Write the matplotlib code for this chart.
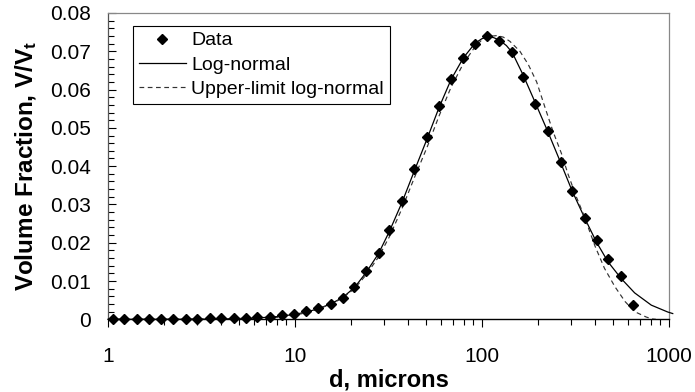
import matplotlib
matplotlib.use('Agg')
import matplotlib.pyplot as plt
from matplotlib.ticker import FixedLocator, MultipleLocator, FuncFormatter, NullFormatter

plt.rcParams['font.family'] = ['Liberation Sans', 'DejaVu Sans']
plt.rcParams['mathtext.fontset'] = 'custom'
plt.rcParams['mathtext.rm'] = 'Liberation Sans'
plt.rcParams['mathtext.bf'] = 'Liberation Sans:bold'
plt.rcParams['mathtext.it'] = 'Liberation Sans:italic'

# Measured data (particle diameter in microns, volume fraction)
d_data = [1.06, 1.22, 1.43, 1.66, 1.92, 2.24, 2.61, 3.01, 3.51, 4.04, 4.72, 5.44,
          6.29, 7.34, 8.47, 9.86, 11.5, 13.2, 15.5, 18.0, 20.8, 24.0, 28.0, 32.0,
          37.4, 43.5, 51.1, 58.8, 68.3, 79.5, 91.8, 106.7, 123.7, 144.5, 166, 193,
          225, 263, 303, 356, 412, 474, 553, 644]
vf_data = [0.0001, 0.0001, 0.0001, 0.0001, 0.00015, 0.00015, 0.0002, 0.0002,
           0.00025, 0.00025, 0.0004, 0.0004, 0.0005, 0.0007, 0.0011, 0.0013,
           0.0021, 0.0029, 0.0040, 0.0056, 0.0085, 0.0127, 0.0174, 0.0234,
           0.0310, 0.0392, 0.0475, 0.0556, 0.0627, 0.0682, 0.0719, 0.0740,
           0.0727, 0.0698, 0.0633, 0.0563, 0.0493, 0.0411, 0.0334, 0.0264,
           0.0207, 0.0157, 0.0113, 0.0037]

# Log-normal fit curve
d_ln = [1, 2, 3, 4, 5, 6, 7, 8, 9, 10, 11.5, 13.2, 15.5, 18, 20.8, 24, 28, 32,
        37.4, 43.5, 51.1, 58.8, 68.3, 79.5, 91.8, 100, 107, 115, 124, 135, 145,
        166, 193, 225, 263, 303, 356, 409, 472, 556, 655, 804, 985, 1047]
vf_ln = [0.0, 0.0, 0.00003, 0.0001, 0.0002, 0.0003, 0.0005, 0.0007, 0.0010,
         0.0013, 0.0019, 0.0027, 0.0040, 0.0057, 0.0083, 0.0122, 0.0172, 0.0230,
         0.0306, 0.0388, 0.0474, 0.0552, 0.0626, 0.0683, 0.0721, 0.0733, 0.0737,
         0.0736, 0.0729, 0.0715, 0.0697, 0.0638, 0.0565, 0.0490, 0.0410, 0.0336,
         0.0262, 0.0202, 0.0150, 0.0106, 0.0069, 0.0037, 0.0019, 0.0015]

# Upper-limit log-normal fit curve
d_ul = [1, 3, 5, 7, 8, 10, 12, 15.5, 18, 20.8, 24, 28, 32, 37.4, 43.5, 51.1,
        58.8, 68.3, 79.5, 91.8, 100, 110, 120, 130, 141, 159.5, 176.6, 196, 217,
        240, 266, 288, 320, 347, 403, 452, 514, 583, 655, 755, 811, 850]
vf_ul = [0.0, 0.0, 0.0001, 0.0003, 0.0005, 0.0011, 0.0019, 0.0039, 0.0056,
         0.0080, 0.0116, 0.0163, 0.0216, 0.0290, 0.0370, 0.0452, 0.0530, 0.0606,
         0.0668, 0.0712, 0.0730, 0.0739, 0.0741, 0.0737, 0.0726, 0.0700, 0.0666,
         0.0620, 0.0554, 0.0490, 0.0433, 0.0380, 0.0319, 0.0277, 0.0190, 0.0133,
         0.0085, 0.0046, 0.0020, 0.0006, 0.0001, 0.0]

x_ticks = [1, 10, 100, 1000]
x_ticklabels = ['1', '10', '100', '1000']

W, H = 695, 392
fig = plt.figure(figsize=(W / 100, H / 100), dpi=100)
ax = fig.add_axes([108 / W, 1 - 319.3 / H, 561 / W, 306.3 / H])

h_ln, = ax.plot(d_ln, vf_ln, color='black', lw=0.9, clip_on=False, zorder=3)
h_ul, = ax.plot(d_ul, vf_ul, color='#333333', lw=0.85, ls=(0, (4, 3)), zorder=3)
h_dt, = ax.plot(d_data, vf_data, 'D', color='black', ms=5.6, mec='black',
                clip_on=False, zorder=4)

ax.set_xscale('log')
ax.set_xlim(1, 1000)
ax.set_ylim(0, 0.08)

ax.xaxis.set_major_locator(FixedLocator(x_ticks))
ax.set_xticklabels(x_ticklabels)
minors = [m * 10 ** k for k in range(3) for m in range(2, 10)]
ax.xaxis.set_minor_locator(FixedLocator(minors))
ax.xaxis.set_minor_formatter(NullFormatter())
ax.yaxis.set_major_locator(MultipleLocator(0.01))
ax.yaxis.set_minor_locator(MultipleLocator(0.002))
ax.yaxis.set_major_formatter(FuncFormatter(lambda v, p: '0' if abs(v) < 1e-9 else f'{v:.2f}'))

ax.tick_params(axis='x', which='major', direction='out', length=6, width=0.8,
               labelsize=15, pad=14)
ax.tick_params(axis='x', which='minor', direction='out', length=4, width=0.8)
ax.tick_params(axis='y', which='major', direction='in', length=6, width=0.8,
               labelsize=15, pad=12)
ax.tick_params(axis='y', which='minor', direction='in', length=4, width=0.8)

for s in ['top', 'right']:
    ax.spines[s].set_color('#888888')
    ax.spines[s].set_linewidth(0.9)
ax.spines['left'].set_color('#555555')
ax.spines['left'].set_linewidth(0.9)
ax.spines['bottom'].set_color('black')
ax.spines['bottom'].set_linewidth(1.0)

ax.set_xlabel('d, microns', fontsize=17, fontweight='bold', labelpad=1.5)
ax.set_ylabel(r'Volume Fraction, V/V$_\mathbf{t}$', fontsize=17.5,
              fontweight='bold', labelpad=8)

leg = ax.legend([h_dt, h_ln, h_ul], ['Data', 'Log-normal', 'Upper-limit log-normal'],
                loc='upper left', bbox_to_anchor=(25 / 561, 1 - 13 / 306.3),
                borderaxespad=0, fontsize=14, frameon=True, fancybox=False,
                edgecolor='black', framealpha=1, handlelength=2.4,
                handletextpad=0.3, labelspacing=0.35, borderpad=0.3,
                numpoints=1)
leg.get_frame().set_linewidth(0.8)

fig.savefig('out.png', dpi=100)
